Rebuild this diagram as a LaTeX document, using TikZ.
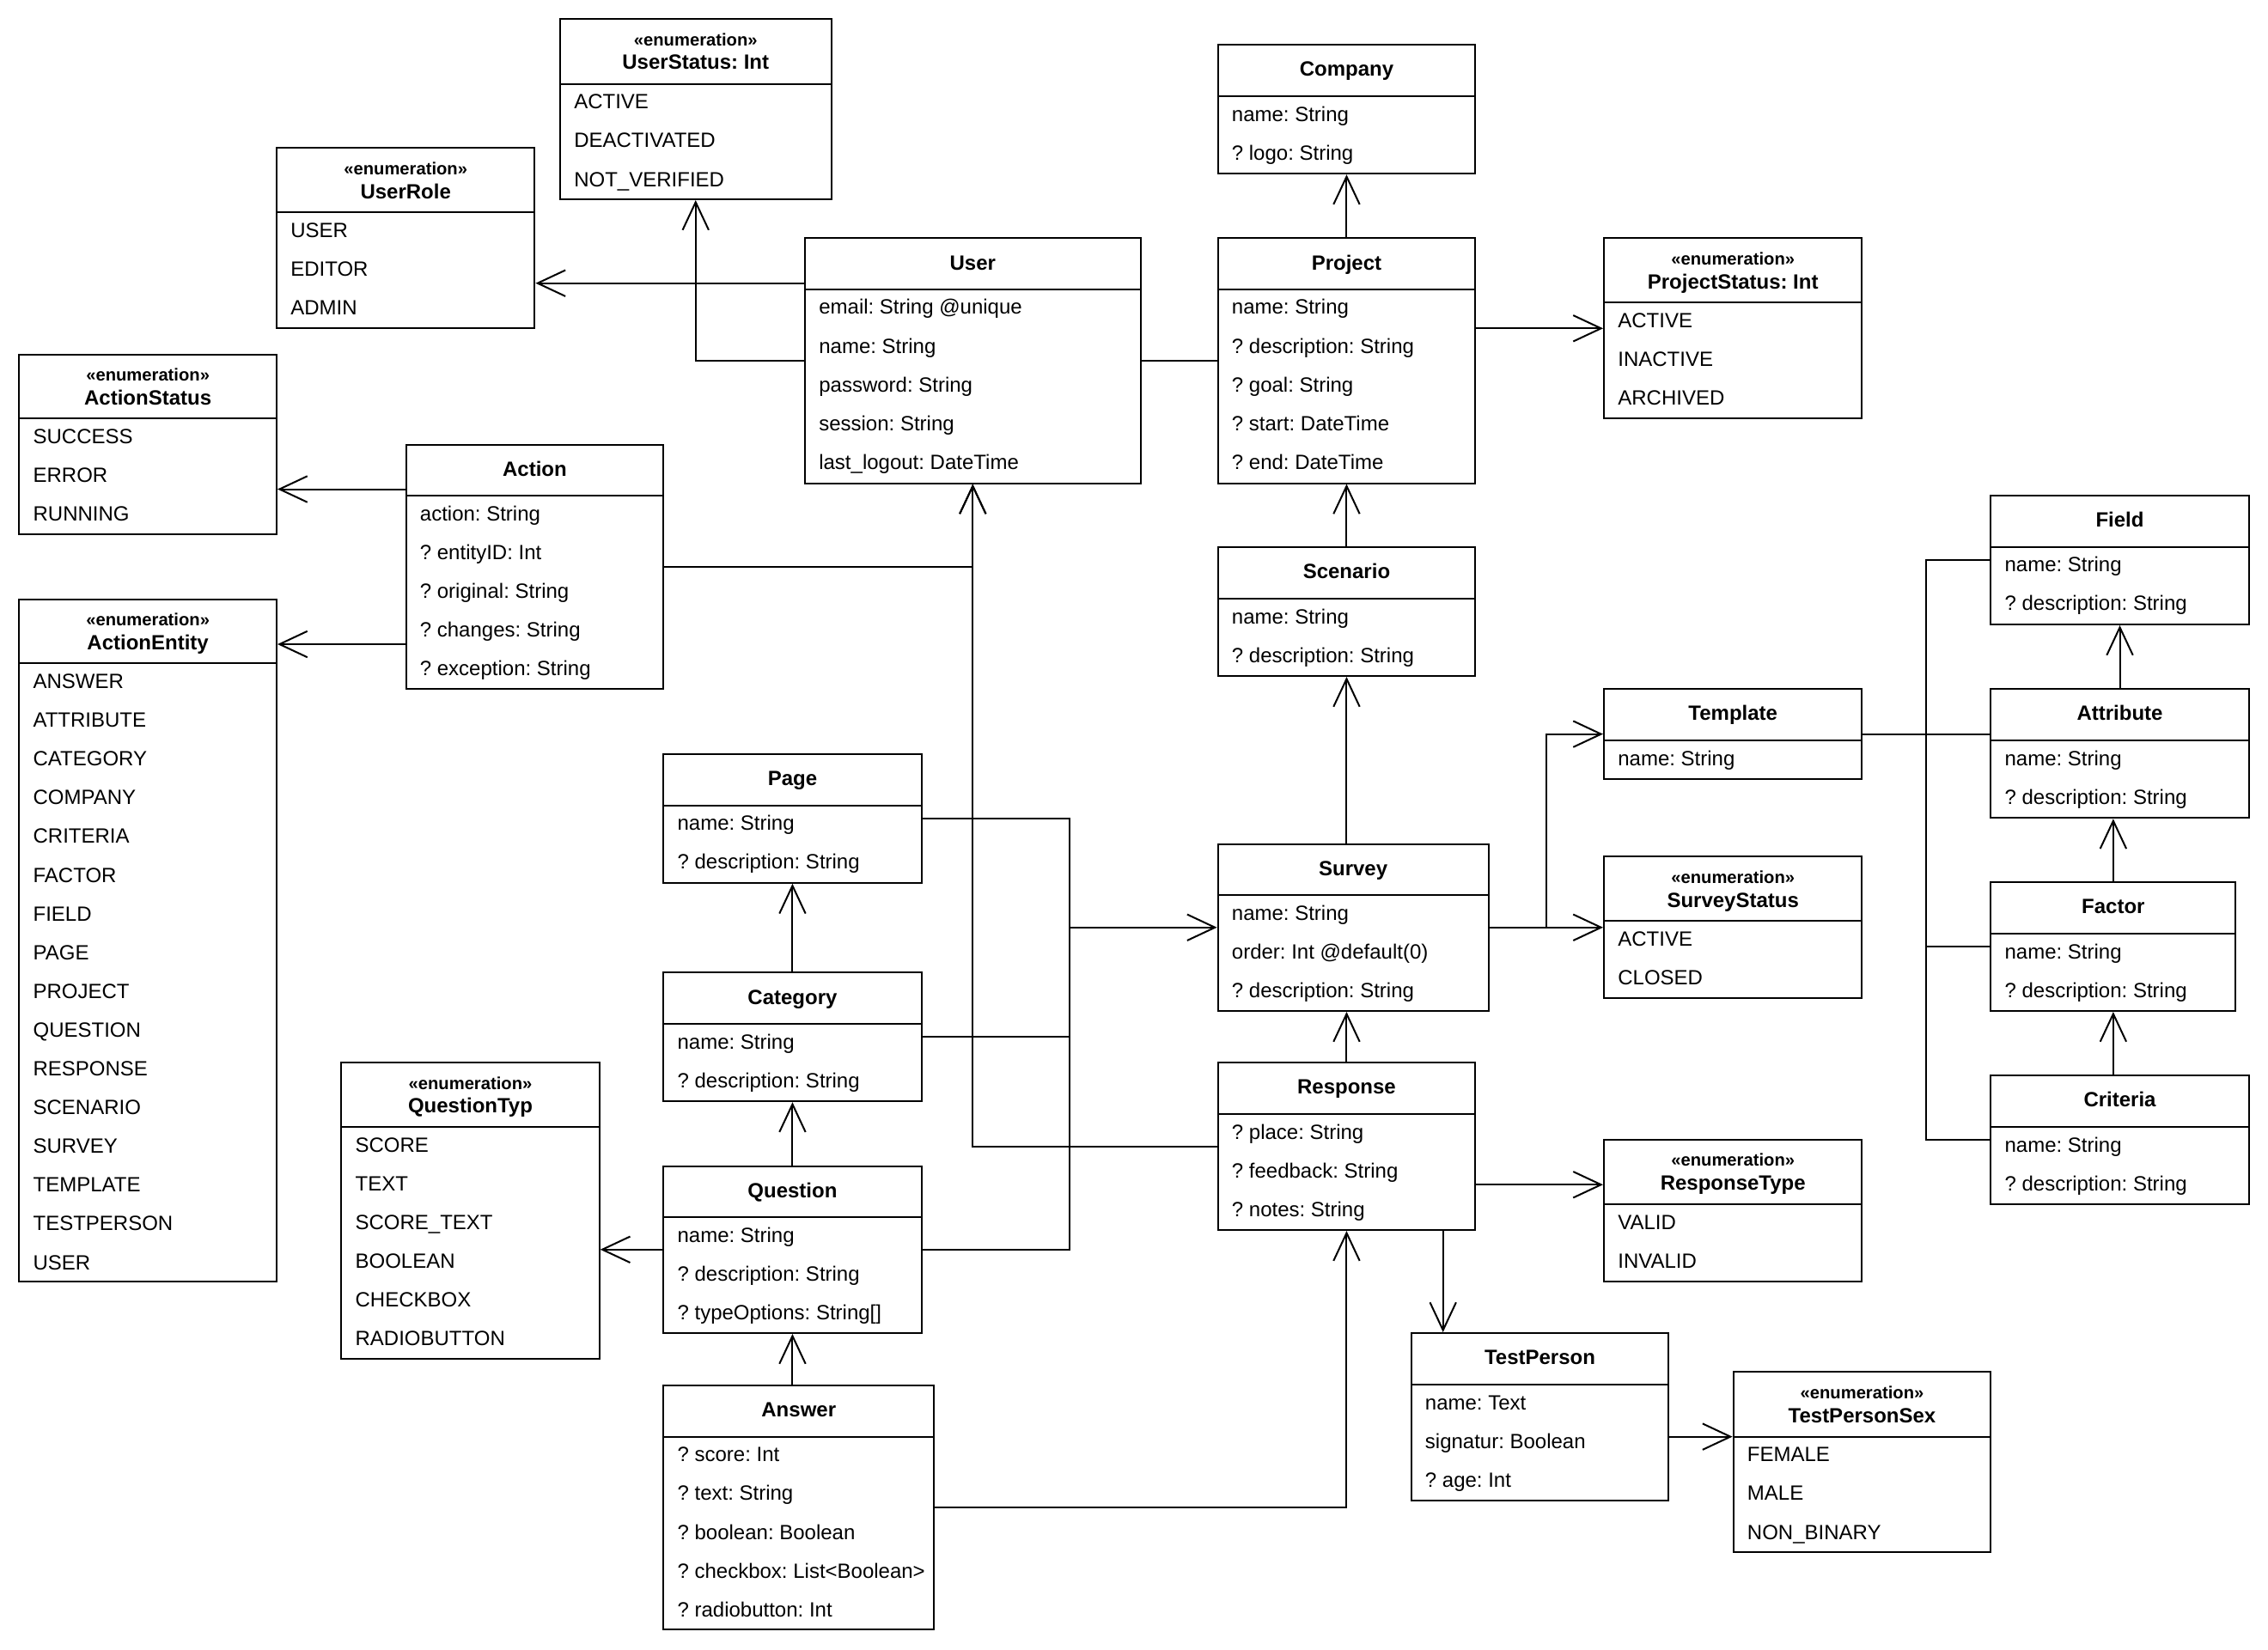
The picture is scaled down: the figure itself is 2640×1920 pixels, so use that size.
\documentclass[tikz,border=0pt]{standalone}
\usepackage{fontspec}
\setmainfont{Liberation Sans}
\frenchspacing
\usetikzlibrary{fit,arrows.meta}
\tikzset{
  clsbox/.style={draw=black, line width=0.5pt, fill=white, inner sep=0pt},
  clsline/.style={draw=black, line width=0.5pt},
  conn/.style={draw=black, line width=0.5pt},
  arr/.style={conn, -{Straight Barb[length=8.1pt,width=7.6pt]}},
  rowtext/.style={anchor=base west, inner sep=0pt, font=\fontsize{6}{7}\selectfont},
  ttl/.style={anchor=base, inner sep=0pt, font=\fontsize{6}{7}\selectfont\bfseries},
  stereo/.style={anchor=base, inner sep=0pt, font=\fontsize{5.05}{6}\selectfont\bfseries},
}
% #1 name, #2 x1, #3 y1, #4 x2, #5 header bottom, #6 y2, #7 title, #8 rows
\newcommand{\umlcls}[8]{%
  \node[clsbox, fit={(#2,#3) (#4,#6)}] (#1) {};
  \draw[clsline] (#2,#5) -- (#4,#5);
  \node[ttl] (#1-t) at ({(#2+#4)/2}, #3+36.6) {#7};
  \foreach \rowtxt [count=\i] in {#8} {\node[rowtext] (#1-r\i) at (#2+15.5, #5+29.2+45.1*\i-45.1) {\rowtxt};}
}
\newcommand{\umlenm}[8]{%
  \node[clsbox, fit={(#2,#3) (#4,#6)}] (#1) {};
  \draw[clsline] (#2,#5) -- (#4,#5);
  \node[stereo] (#1-s) at ({(#2+#4)/2}, #3+31) {«enumeration»};
  \node[ttl] (#1-t) at ({(#2+#4)/2}, #3+58.9) {#7};
  \foreach \rowtxt [count=\i] in {#8} {\node[rowtext] (#1-r\i) at (#2+15.5, #5+29.2+45.1*\i-45.1) {\rowtxt};}
}
\begin{document}
\begin{tikzpicture}[x=0.25pt, y=-0.25pt]
\fill[white] (0,0) rectangle (2640,1920);
\useasboundingbox (0,0) rectangle (2640,1920);

\umlenm{userstatus}{652}{22}{967.5}{97.6}{232}{UserStatus: Int}{{ACTIVE},{DEACTIVATED},{NOT\_VERIFIED}}
\umlenm{userrole}{322}{172.2}{622.4}{247.4}{382}{UserRole}{{USER},{EDITOR},{ADMIN}}
\umlcls{user}{937}{277.4}{1327.6}{336.7}{562.5}{User}{{email: String @unique},{name: String},{password: String},{session: String},{last\_logout: DateTime}}
\umlcls{company}{1417.6}{52.3}{1717.3}{112.2}{202.2}{Company}{{name: String},{? logo: String}}
\umlcls{project}{1417.6}{277.4}{1717.3}{336.7}{562.5}{Project}{{name: String},{? description: String},{? goal: String},{? start: DateTime},{? end: DateTime}}
\umlenm{projectstatus}{1867}{277.4}{2167.4}{352}{487.2}{ProjectStatus: Int}{{ACTIVE},{INACTIVE},{ARCHIVED}}
\umlenm{actionstatus}{22.3}{412.6}{322}{487.2}{621.8}{ActionStatus}{{SUCCESS},{ERROR},{RUNNING}}
\umlcls{action}{472.6}{517.9}{772.3}{577.2}{802.3}{Action}{{action: String},{? entityID: Int},{? original: String},{? changes: String},{? exception: String}}
\umlenm{actionentity}{22.3}{697.7}{322}{772.3}{1492}{ActionEntity}{{ANSWER},{ATTRIBUTE},{CATEGORY},{COMPANY},{CRITERIA},{FACTOR},{FIELD},{PAGE},{PROJECT},{QUESTION},{RESPONSE},{SCENARIO},{SURVEY},{TEMPLATE},{TESTPERSON},{USER}}
\umlcls{scenario}{1417.6}{637.1}{1717.3}{697.1}{787}{Scenario}{{name: String},{? description: String}}
\umlcls{field}{2317.3}{577.2}{2617.7}{636.5}{727}{Field}{{name: String},{? description: String}}
\umlcls{template}{1867}{802.3}{2167.4}{862.2}{906.9}{Template}{{name: String}}
\umlcls{attribute}{2317.3}{802.3}{2617.7}{862.2}{952.3}{Attribute}{{name: String},{? description: String}}
\umlcls{page}{772.3}{877.6}{1072.6}{937.5}{1027.8}{Page}{{name: String},{? description: String}}
\umlcls{survey}{1417.6}{982.5}{1732.6}{1041.8}{1177}{Survey}{{name: String},{order: Int @default(0)},{? description: String}}
\umlenm{surveystatus}{1867}{997.2}{2167.4}{1072.4}{1162.3}{SurveyStatus}{{ACTIVE},{CLOSED}}
\umlcls{factor}{2317.3}{1027.1}{2602.4}{1087.1}{1177}{Factor}{{name: String},{? description: String}}
\umlcls{category}{772.3}{1132.4}{1072.6}{1192.3}{1282.2}{Category}{{name: String},{? description: String}}
\umlenm{questiontyp}{397.3}{1237}{697.7}{1312.2}{1582}{QuestionTyp}{{SCORE},{TEXT},{SCORE\_TEXT},{BOOLEAN},{CHECKBOX},{RADIOBUTTON}}
\umlcls{response}{1417.6}{1237}{1717.3}{1296.9}{1432.1}{Response}{{? place: String},{? feedback: String},{? notes: String}}
\umlcls{criteria}{2317.3}{1252.3}{2617.7}{1312.2}{1402.1}{Criteria}{{name: String},{? description: String}}
\umlcls{question}{772.3}{1357.5}{1072.6}{1417.4}{1552}{Question}{{name: String},{? description: String},{? typeOptions: String[]}}
\umlenm{responsetype}{1867}{1326.9}{2167.4}{1402.1}{1492.1}{ResponseType}{{VALID},{INVALID}}
\umlcls{testperson}{1642.6}{1552}{1942.3}{1612}{1747.2}{TestPerson}{{name: Text},{signatur: Boolean},{? age: Int}}
\umlenm{testpersonsex}{2017.6}{1597.3}{2317.3}{1672.6}{1806.5}{TestPersonSex}{{FEMALE},{MALE},{NON\_BINARY}}
\umlcls{answer}{772.3}{1612.6}{1087.2}{1672.6}{1897}{Answer}{{? score: Int},{? text: String},{? boolean: Boolean},{? checkbox: List<Boolean>},{? radiobutton: Int}}

% connectors
\draw[arr] (user.west |- 0,329.7) -- (userrole.east |- 0,329.7);
\draw[arr] (user.west) -| (userstatus.south);
\draw[conn] (user.east) -- (project.west);
\draw[arr] (project.north) -- (company.south);
\draw[arr] (project.east |- projectstatus.west) -- (projectstatus.west);
\draw[arr] (scenario.north) -- (project.south);
\draw[arr] (survey.north -| scenario.south) -- (scenario.south);
\draw[arr] (action.west |- 0,569.5) -- (actionstatus.east |- 0,569.5);
\draw[arr] (action.west |- 0,750) -- (actionentity.east |- 0,750);
\draw[arr] (action.east) -| (user.south);
\draw[arr] (response.west) -| (user.south);
\coordinate (jq) at (survey.west -| 1244.7,0);
\draw[conn] (page.east) -| (jq);
\draw[conn] (category.east) -| (jq);
\draw[conn] (question.east) -| (jq);
\draw[arr] (jq) -- (survey.west);
\draw[arr] (category.north) -- (page.south);
\draw[arr] (question.north) -- (category.south);
\draw[arr] (question.west) -- (questiontyp.east |- question.west);
\draw[arr] (answer.north -| question.south) -- (question.south);
\draw[arr] (answer.east) -| (response.south);
\draw[arr] (response.north) -- (response.north |- survey.south);
\draw[arr] (response.east |- 0,1379.2) -- (responsetype.west |- 0,1379.2);
\draw[arr] (response.south -| 1679.7,0) -- (testperson.north -| 1679.7,0);
\draw[arr] (testperson.east |- 0,1672.6) -- (testpersonsex.west |- 0,1672.6);
\coordinate (js) at (survey.east -| 1799.6,0);
\draw[conn] (survey.east) -- (js);
\draw[arr] (js) |- (template.west);
\draw[arr] (js) -- (surveystatus.west |- js);
\coordinate (jt) at (template.east -| 2242,0);
\draw[conn] (template.east) -- (attribute.west |- template.east);
\draw[conn] (jt) |- (field.west);
\draw[conn] (jt) |- (factor.west);
\draw[conn] (jt) |- (criteria.west);
\draw[arr] (attribute.north) -- (field.south);
\draw[arr] (factor.north) -- (factor.north |- attribute.south);
\draw[arr] (criteria.north -| factor.south) -- (factor.south);
\end{tikzpicture}
\end{document}
